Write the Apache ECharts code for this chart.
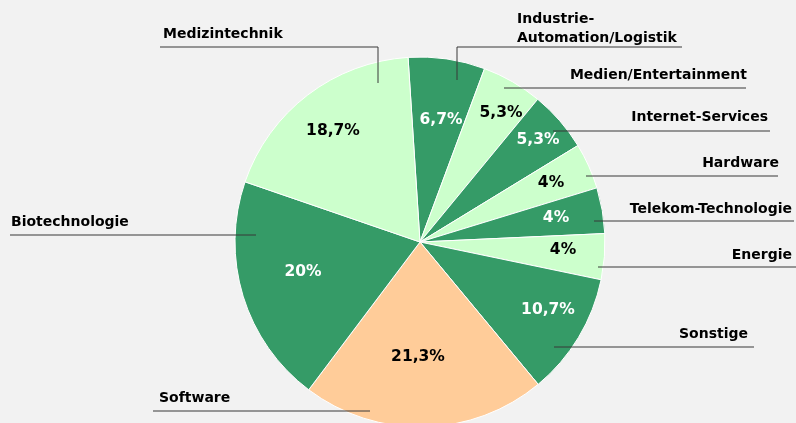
<!DOCTYPE html>
<html>
<head>
<meta charset="utf-8">
<script src="https://cdn.jsdelivr.net/npm/echarts@6/dist/echarts.min.js"></script>
<style>
  html, body { margin: 0; padding: 0; background: #f2f2f2; }
  #chart { width: 796px; height: 423px; }
</style>
</head>
<body>
<div id="chart"></div>
<script>
// chart data
const categories = [
  'Industrie-\nAutomation/Logistik', 'Medien/Entertainment', 'Internet-Services',
  'Hardware', 'Telekom-Technologie', 'Energie', 'Sonstige', 'Software',
  'Biotechnologie', 'Medizintechnik'
];
const shares = [6.7, 5.3, 5.3, 4, 4, 4, 10.7, 21.3, 20, 18.7];

const DARK = '#359b67', LIGHT = '#ccffcc', ORANGE = '#ffcc99';
const colors = [DARK, LIGHT, DARK, LIGHT, DARK, LIGHT, DARK, ORANGE, DARK, LIGHT];

// where the percentage labels sit (px)
const pctPos = [
  [441, 120], [501, 113], [538, 140], [551, 183], [556, 218],
  [563, 250], [548, 310], [418, 357], [303, 272], [333, 131]
];
// name labels: text anchor, alignment, leader line points
const namePos = [
  { x: 517, y: 48, align: 'left',  line: [[457, 80], [457, 47], [682, 47]] },
  { x: 747, y: 85, align: 'right', line: [[504, 88], [504, 88], [746, 88]] },
  { x: 768, y: 127, align: 'right', line: [[553, 131], [553, 131], [770, 131]] },
  { x: 779, y: 173, align: 'right', line: [[586, 176], [586, 176], [778, 176]] },
  { x: 792, y: 219, align: 'right', line: [[594, 221], [594, 221], [794, 221]] },
  { x: 792, y: 265, align: 'right', line: [[598, 267], [598, 267], [796, 267]] },
  { x: 748, y: 344, align: 'right', line: [[554, 347], [554, 347], [754, 347]] },
  { x: 159, y: 408, align: 'left',  line: [[370, 411], [370, 411], [153, 411]] },
  { x: 11, y: 232, align: 'left',  line: [[256, 235], [256, 235], [10, 235]] },
  { x: 163, y: 44, align: 'left',  line: [[378, 83], [378, 47], [160, 47]] }
];

const font = { fontFamily: 'DejaVu Sans', fontWeight: 'bold', fontSize: 14 };

const chart = echarts.init(document.getElementById('chart'));
const pieBase = {
  type: 'pie',
  center: [420, 242],
  radius: 185,
  startAngle: 93.7,
  clockwise: true,
  avoidLabelOverlap: false,
  animation: false,
  emphasis: { disabled: true }
};

chart.setOption({
  backgroundColor: '#f2f2f2',
  series: [
    Object.assign({}, pieBase, {
      z: 2,
      data: categories.map((c, i) => ({
        name: c, value: shares[i],
        itemStyle: { color: colors[i] },
        label: { color: colors[i] === DARK ? '#ffffff' : '#000000' }
      })),
      itemStyle: { borderColor: '#ffffff', borderWidth: 1 },
      label: Object.assign({
        position: 'inside',
        formatter: p => String(p.value).replace('.', ',') + '%'
      }, font, { fontSize: 15.5 }),
      labelLine: { show: false },
      labelLayout: p => ({
        x: pctPos[p.dataIndex][0], y: pctPos[p.dataIndex][1],
        align: 'center', verticalAlign: 'middle'
      })
    }),
    Object.assign({}, pieBase, {
      z: 10,
      silent: true,
      data: categories.map((c, i) => ({ name: c, value: shares[i] })),
      itemStyle: { color: 'rgba(0,0,0,0)', borderWidth: 0 },
      label: Object.assign({
        show: true, position: 'outside', color: '#000000',
        lineHeight: 19, formatter: '{b}'
      }, font),
      labelLine: { show: true, lineStyle: { color: '#383838', width: 1 } },
      labelLayout: p => {
        const n = namePos[p.dataIndex];
        return { x: n.x, y: n.y, align: n.align, verticalAlign: 'bottom', labelLinePoints: n.line };
      }
    })
  ]
});
</script>
</body>
</html>
